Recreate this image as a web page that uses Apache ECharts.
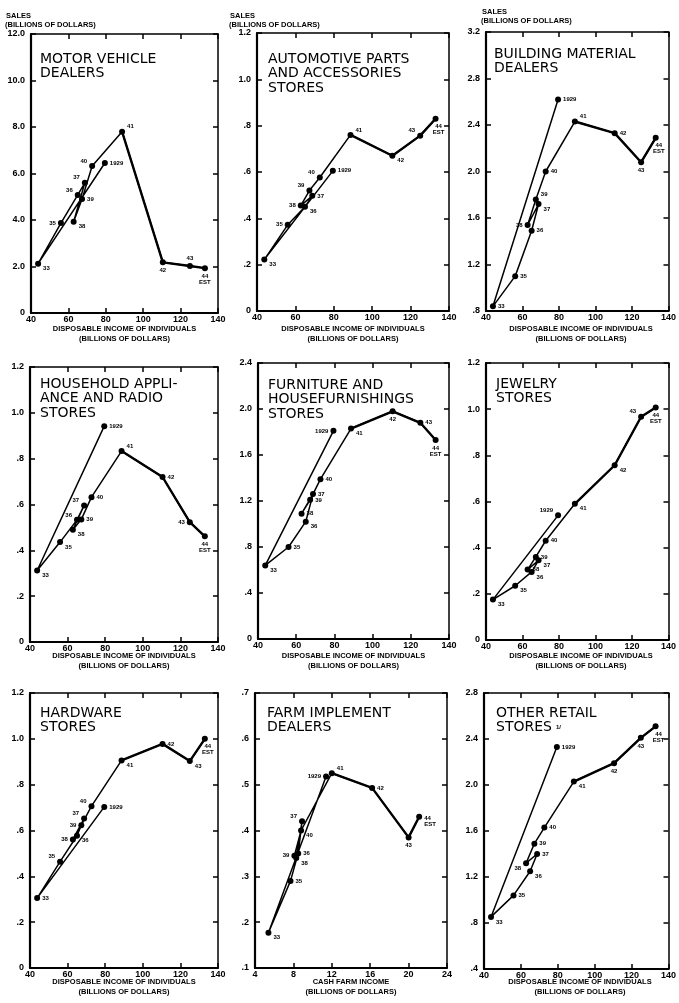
<!DOCTYPE html>
<html><head><meta charset="utf-8">
<script src="https://cdn.jsdelivr.net/npm/echarts@6/dist/echarts.min.js"></script>
<style>html,body{margin:0;padding:0;background:#fff}#c{width:679px;height:1003px}</style>
</head><body><div id="c"></div>
<script>
// ---- data ----
const years = ['1929','33','35','36','37','38','39','40','41','42','43','44\nEST'];
const income = [79.5, 43.8, 56, 65, 68.8, 62.8, 67.3, 72.7, 88.7, 110.5, 125, 133];
const cashFarmIncome = [11.4, 5.4, 7.7, 8.5, 8.9, 8.3, 8.1, 8.8, 12.0, 16.2, 20.0, 21.1];
const motorVehicle = [6.45, 2.12, 3.87, 5.08, 5.6, 3.93, 4.9, 6.32, 7.8, 2.18, 2.02, 1.93];
const autoParts = [0.605, 0.222, 0.372, 0.45, 0.497, 0.455, 0.52, 0.576, 0.76, 0.67, 0.757, 0.83];
const buildingMaterial = [2.62, 0.84, 1.1, 1.49, 1.72, 1.54, 1.76, 2.0, 2.43, 2.33, 2.08, 2.29];
const householdAppliance = [0.942, 0.312, 0.436, 0.533, 0.596, 0.49, 0.535, 0.632, 0.833, 0.72, 0.523, 0.461];
const furniture = [1.81, 0.64, 0.8, 1.02, 1.26, 1.09, 1.21, 1.39, 1.83, 1.98, 1.88, 1.73];
const jewelry = [0.54, 0.175, 0.235, 0.295, 0.345, 0.305, 0.36, 0.43, 0.59, 0.757, 0.967, 1.007];
const hardware = [0.703, 0.305, 0.464, 0.577, 0.652, 0.561, 0.623, 0.706, 0.906, 0.978, 0.903, 1.0];
const farmImplement = [0.518, 0.177, 0.29, 0.35, 0.42, 0.34, 0.345, 0.40, 0.525, 0.493, 0.385, 0.43];
const otherRetail = [2.33, 0.853, 1.04, 1.25, 1.40, 1.32, 1.49, 1.63, 2.03, 2.19, 2.41, 2.51];

const incomeRange = [40, 140, 20];
const farmRange = [4, 24, 4];
const salesRanges = [[0,12,2],[0,1.2,0.2],[0.8,3.2,0.4],[0,1.2,0.2],[0,2.4,0.4],[0,1.2,0.2],[0,1.2,0.2],[0.1,0.7,0.1],[0.4,2.8,0.4]];
const panelNames = ['MOTOR VEHICLE\nDEALERS','AUTOMOTIVE PARTS\nAND ACCESSORIES\nSTORES','BUILDING MATERIAL\nDEALERS',
  'HOUSEHOLD APPLI-\nANCE AND RADIO\nSTORES','FURNITURE AND\nHOUSEFURNISHINGS\nSTORES','JEWELRY\nSTORES',
  'HARDWARE\nSTORES','FARM IMPLEMENT\nDEALERS','OTHER RETAIL\nSTORES'];
const incomeTitle = ['DISPOSABLE INCOME OF INDIVIDUALS','(BILLIONS OF DOLLARS)'];
const farmTitle = ['CASH FARM INCOME','(BILLIONS OF DOLLARS)'];

// ---- layout / style ----
const grids = [
 {left:31, top:34, width:187, height:279},
 {left:257, top:33, width:192, height:278},
 {left:486, top:32, width:190, height:279},
 {left:30, top:367, width:188, height:275},
 {left:258, top:363, width:191, height:276},
 {left:486, top:363, width:190, height:277},
 {left:30, top:693, width:188, height:275},
 {left:255, top:693, width:192, height:275},
 {left:484, top:693, width:192, height:276}
];
const namePos = [[40,52],[268,52],[494,47],[40,377],[268,378],[496,377],[40,706],[267,706],[496,706]];
const xTitleTop = [325,325,325,652,652,652,978,978,978];
const labelPos = [
 ['r','rb','l','lt','lt','rb','r','lt','rt','b','t','b'],
 ['r','rb','l','rb','r','l','lt','lt','rt','rb','lt','br'],
 ['r','r','r','r','rb','l','rt','r','rt','r','b','br'],
 ['r','rb','rb','lt','lt','rb','r','r','rt','r','l','b'],
 ['l','rb','r','rb','r','r','r','r','rb','b','r','b'],
 ['lt','rb','rb','rb','rb','r','r','r','rb','rb','lt','b'],
 ['r','r','lt','rb','lt','l','l','lt','rb','r','rb','br'],
 ['l','rb','r','r','lt','rb','l','rb','rt','r','b','rb'],
 ['r','rb','r','rb','r','lb','r','r','rb','b','b','br']
];
const FONT = '"Liberation Sans", Arial, sans-serif';

const panelX = [income,income,income,income,income,income,income,cashFarmIncome,income];
const panelY = [motorVehicle,autoParts,buildingMaterial,householdAppliance,furniture,jewelry,hardware,farmImplement,otherRetail];

function lab(code){
  const m = {r:{position:'right'}, l:{position:'left'}, t:{position:'top'}, b:{position:'bottom'},
    br:{position:'bottom', offset:[3,0]},
    rt:{position:'right', offset:[0,-5]}, rb:{position:'right', offset:[0,5]},
    lt:{position:'left', offset:[0,-5]}, lb:{position:'left', offset:[0,5]}};
  return Object.assign({distance:2}, m[code]);
}
function fmt(v){
  if (Math.abs(v) < 1e-9) return '0';
  let s = (Math.round(v*10)/10).toFixed(1);
  if (s.startsWith('0.')) s = s.slice(1);
  return s;
}

const xAxis = [], yAxis = [], series = [], graphic = [];
grids.forEach((g,i)=>{
  const xr = i === 7 ? farmRange : incomeRange;
  const yr = salesRanges[i];
  const tick = {show:true, inside:true, length:5, lineStyle:{color:'#000', width:1.5}};
  xAxis.push({gridIndex:i, type:'value', min:xr[0], max:xr[1], interval:xr[2], position:'bottom',
    axisLine:{show:true, onZero:false, lineStyle:{color:'#000', width:2}}, axisTick:tick,
    axisLabel:{fontSize:9, fontWeight:'bold', color:'#000', margin:2, fontFamily:FONT}, splitLine:{show:false}});
  xAxis.push({gridIndex:i, type:'value', min:xr[0], max:xr[1], interval:xr[2], position:'top',
    axisLine:{show:true, onZero:false, lineStyle:{color:'#000', width:1.5}}, axisTick:tick,
    axisLabel:{show:false}, splitLine:{show:false}});
  yAxis.push({gridIndex:i, type:'value', min:yr[0], max:yr[1], interval:yr[2], position:'left',
    axisLine:{show:true, onZero:false, lineStyle:{color:'#000', width:2.2}}, axisTick:tick,
    axisLabel:{fontSize:9, fontWeight:'bold', color:'#000', margin:6, fontFamily:FONT, formatter:fmt}, splitLine:{show:false}});
  yAxis.push({gridIndex:i, type:'value', min:yr[0], max:yr[1], interval:yr[2], position:'right',
    axisLine:{show:true, onZero:false, lineStyle:{color:'#000', width:1.5}}, axisTick:tick,
    axisLabel:{show:false}, splitLine:{show:false}});
  const xs = panelX[i], ys = panelY[i];
  series.push({type:'line', xAxisIndex:2*i, yAxisIndex:2*i,
    data: xs.map((x,k)=>({value:[x, ys[k]], label:lab(labelPos[i][k])})),
    symbol:'circle', symbolSize:6, itemStyle:{color:'#000'}, lineStyle:{color:'#000', width:1.5},
    label:{show:true, formatter:p=>years[p.dataIndex], fontSize:6, fontWeight:'bold', color:'#000', fontFamily:FONT, lineHeight:6},
    animation:false, z:3});
  series.push({type:'line', xAxisIndex:2*i, yAxisIndex:2*i,
    data: xs.slice(8).map((x,k)=>[x, ys[k+8]]),
    symbol:'none', lineStyle:{color:'#000', width:2.4}, silent:true, animation:false, z:2});
  graphic.push({type:'text', x:namePos[i][0], y:namePos[i][1], z:10,
    style:{text:panelNames[i], fill:'#000', font:'14px "DejaVu Sans", sans-serif', lineHeight:14.5, textVerticalAlign:'top'}});
  const t = i === 7 ? farmTitle : incomeTitle;
  const cx = g.left + g.width/2;
  graphic.push({type:'text', x:cx, y:xTitleTop[i], style:{text:t[0], fill:'#000', font:'bold 7.5px '+FONT, textAlign:'center', textVerticalAlign:'top'}});
  graphic.push({type:'text', x:cx, y:xTitleTop[i]+10, style:{text:t[1], fill:'#000', font:'bold 7.5px '+FONT, textAlign:'center', textVerticalAlign:'top'}});
});
[[6,12],[230,12],[482,8]].forEach(p=>{
  graphic.push({type:'text', x:p[0], y:p[1], style:{text:'SALES', fill:'#000', font:'bold 7.5px '+FONT, textVerticalAlign:'top'}});
  graphic.push({type:'text', x:p[0]-1, y:p[1]+9, style:{text:'(BILLIONS OF DOLLARS)', fill:'#000', font:'bold 7.5px '+FONT, textVerticalAlign:'top'}});
});
graphic.push({type:'text', x:556, y:724, style:{text:'1/', fill:'#000', font:'bold 6px '+FONT, textVerticalAlign:'top'}});

const chart = echarts.init(document.getElementById('c'), null, {renderer:'canvas'});
chart.setOption({animation:false, backgroundColor:'#fff', grid:grids.map(g=>Object.assign({containLabel:false}, g)),
  xAxis, yAxis, series, graphic});
</script></body></html>
